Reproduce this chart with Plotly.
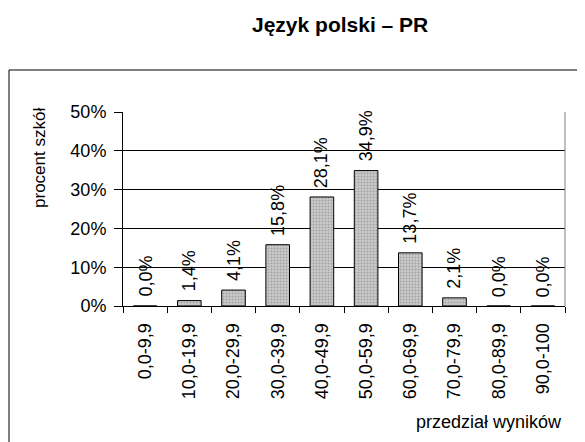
import plotly.graph_objects as go

categories = ["0,0-9,9", "10,0-19,9", "20,0-29,9", "30,0-39,9", "40,0-49,9",
              "50,0-59,9", "60,0-69,9", "70,0-79,9", "80,0-89,9", "90,0-100"]
values = [0.0, 1.4, 4.1, 15.8, 28.1, 34.9, 13.7, 2.1, 0.0, 0.0]
y_ticks = [0, 10, 20, 30, 40, 50]
y_tick_labels = ["0%", "10%", "20%", "30%", "40%", "50%"]

FONT = "Arial, Liberation Sans, sans-serif"

fig = go.Figure()
fig.add_trace(go.Bar(
    x=categories,
    y=values,
    marker=dict(
        color="#c0c0c0",
        line=dict(color="black", width=1),
        pattern=dict(shape=".", fgcolor="#777777", bgcolor="#cccccc", size=3, solidity=0.4),
    ),
    hoverinfo="skip",
))

# value labels, rotated, above each bar (positioned by data coordinates)
label_annotations = [
    dict(x=c, y=v, xref="x", yref="y", text=f"{v:.1f}%".replace(".", ","),
         textangle=-90, xanchor="center", yanchor="bottom", yshift=7,
         showarrow=False, font=dict(family=FONT, size=18, color="black"))
    for c, v in zip(categories, values)
]

fig.update_layout(
    width=577, height=434,
    margin=dict(l=115, r=20, t=104, b=136),
    paper_bgcolor="white", plot_bgcolor="white",
    bargap=0.466,
    showlegend=False,
    font=dict(family=FONT, size=18, color="black"),
    xaxis=dict(
        type="category",
        tickangle=-90,
        tickson="boundaries",
        ticks="outside", ticklen=6, tickcolor="black",
        ticklabelstandoff=9,
        showline=True, linecolor="black", linewidth=1,
        showgrid=False,
        tickfont=dict(family=FONT, size=18, color="black"),
    ),
    yaxis=dict(
        range=[0, 50],
        tickvals=y_ticks, ticktext=y_tick_labels,
        ticks="outside", ticklen=8, tickcolor="black",
        ticklabelstandoff=4,
        showline=True, linecolor="black", linewidth=1,
        showgrid=True, gridcolor="black", gridwidth=1,
        zeroline=False,
        tickfont=dict(family=FONT, size=18, color="black"),
    ),
    shapes=[
        # outer frame: left and top edges, running off the page
        dict(type="line", xref="paper", yref="paper",
             x0=-0.2579, x1=-0.2579, y0=-2.0, y1=1.2165,
             line=dict(color="black", width=1), layer="below"),
        dict(type="line", xref="paper", yref="paper",
             x0=-0.2579, x1=2.0, y0=1.2165, y1=1.2165,
             line=dict(color="black", width=1), layer="below"),
        # right border of plot area
        dict(type="line", xref="paper", yref="paper",
             x0=1, x1=1, y0=0, y1=1, line=dict(color="#808080", width=1)),
    ],
    annotations=label_annotations + [
        dict(text="<b>Język polski – PR</b>", xref="paper", yref="paper",
             x=0.491, y=1.4536, xanchor="center", yanchor="middle", showarrow=False,
             font=dict(family=FONT, size=21, color="black")),
        dict(text="procent szkół", xref="paper", yref="paper",
             x=-0.1878, y=0.763, xanchor="center", yanchor="middle", textangle=-90,
             showarrow=False, font=dict(family=FONT, size=17, color="black")),
        dict(text="przedział wyników", xref="paper", yref="paper",
             x=0.998, y=-0.598, xanchor="right", yanchor="middle", showarrow=False,
             font=dict(family=FONT, size=18, color="black")),
    ],
)

fig.write_html("out.html")
